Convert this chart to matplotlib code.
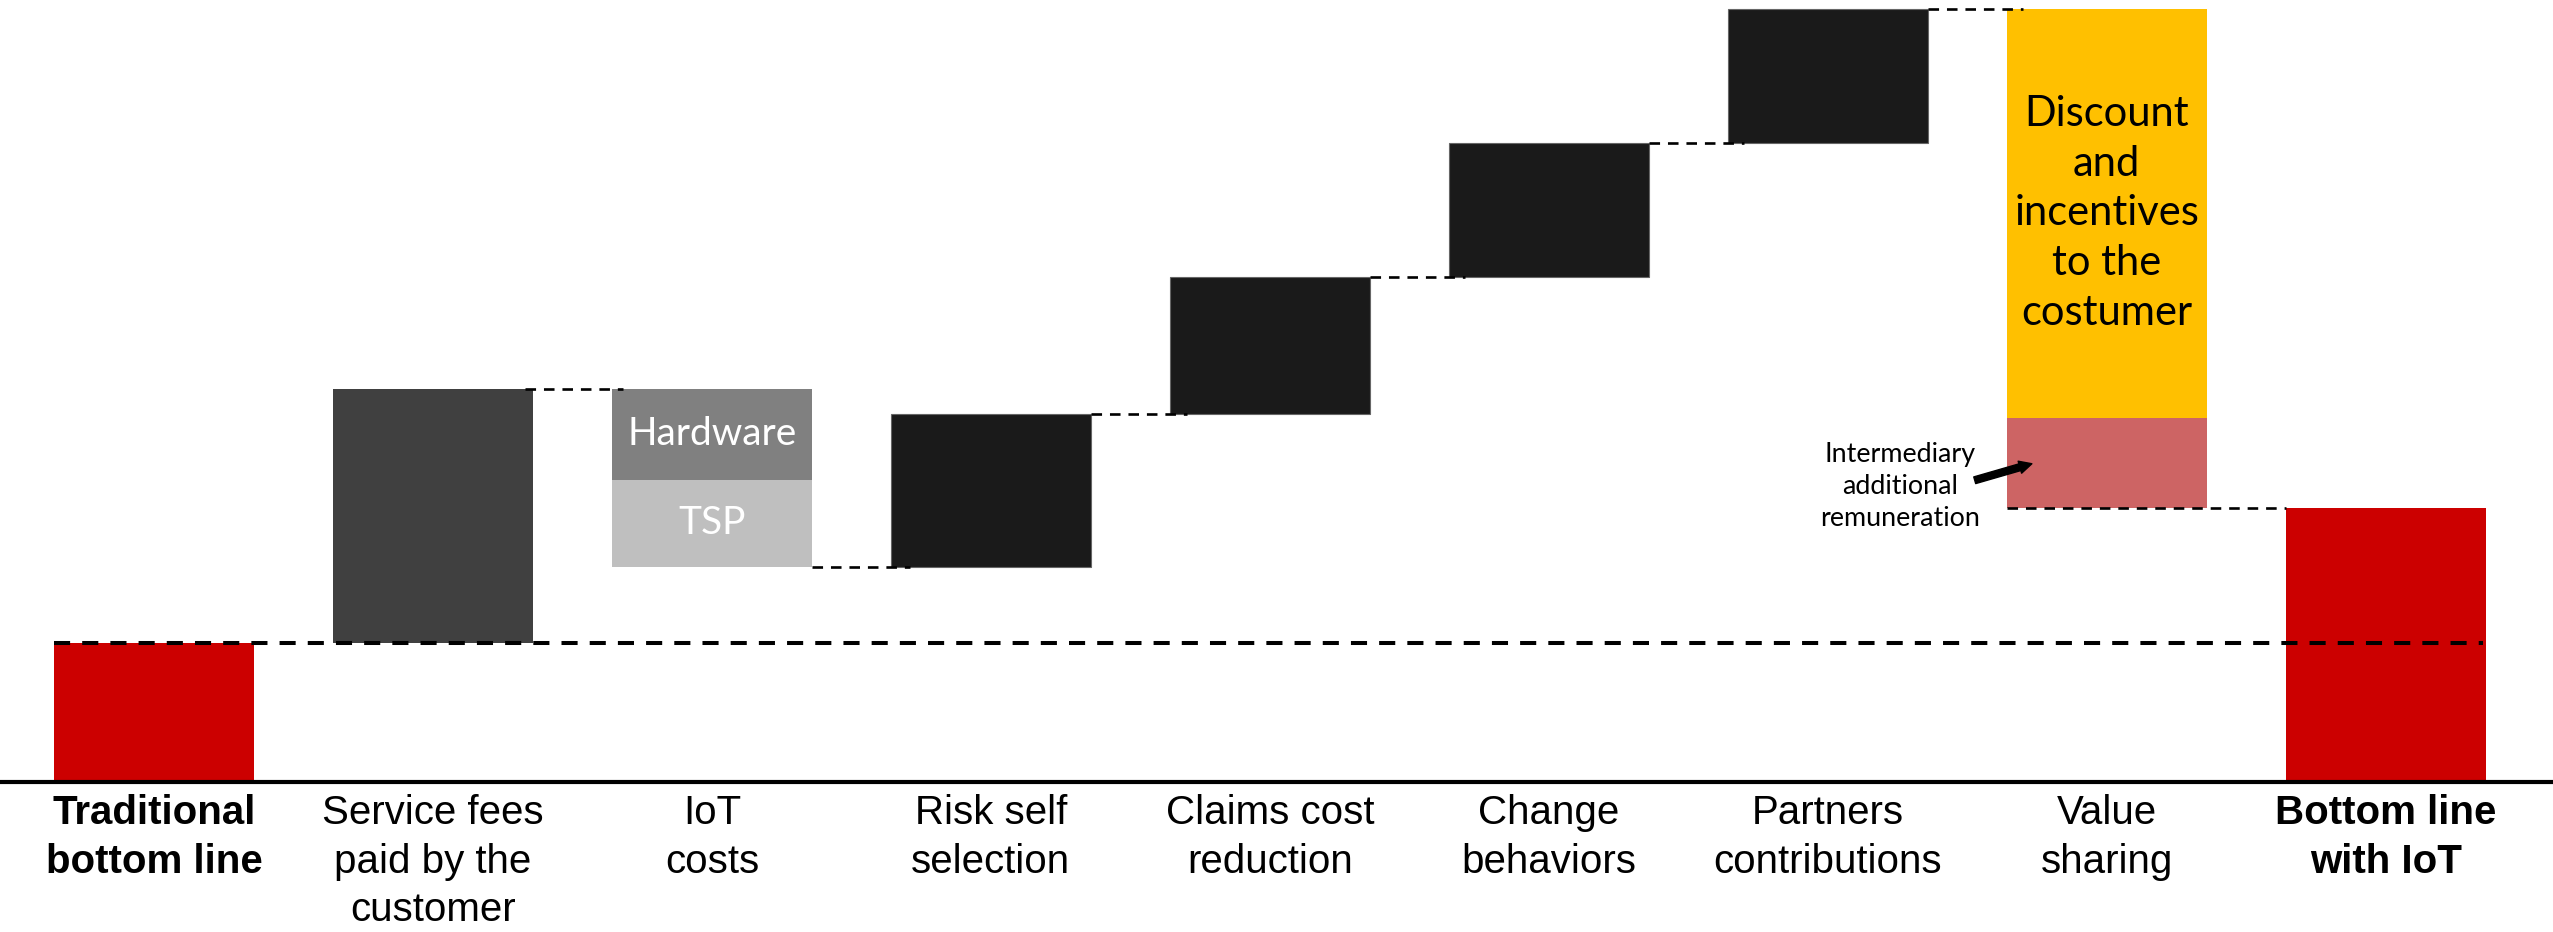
import numpy as np
import matplotlib
matplotlib.use('AGG')
import matplotlib.pyplot as plt

# categories and waterfall steps (arbitrary units, traditional bottom line = 100)
categories = ["Traditional\nbottom line", "Service fees\npaid by the\ncustomer", "IoT\ncosts",
              "Risk self\nselection", "Claims cost\nreduction", "Change\nbehaviors",
              "Partners\ncontributions", "Value\nsharing", "Bottom line\nwith IoT"]
bold_labels = [True, False, False, False, False, False, False, False, True]
start_value = 100
service_fees = 183
hardware = 66
tsp = 62
gains = [110, 98, 97, 96]          # risk, claims, change, partners
discount = 294
intermediary = 65

red = '#CC0000'
dark = '#1A1A1A'

fig = plt.figure(figsize=(25.53, 9.32), dpi=100)
ax = fig.add_axes([0, 0.161, 1, 0.839])
x = np.arange(len(categories))
w = 0.717

# traditional bottom line
ax.bar(x[0], start_value, w, color=red, zorder=2)
level = start_value
# service fees
ax.bar(x[1], service_fees, w, bottom=level, color='#404040', zorder=2)
level += service_fees
connectors = [(x[1] + w / 2 - 0.03, x[2] - w / 2 + 0.04, level)]
# IoT costs (hardware on top of TSP)
ax.bar(x[2], hardware, w, bottom=level - hardware, color='#808080', zorder=2)
ax.text(x[2], level - hardware / 2, "Hardware", color='white', ha='center', va='center',
        fontsize=28, family='Lato', zorder=4)
level -= hardware
ax.bar(x[2], tsp, w, bottom=level - tsp, color='#BFBFBF', zorder=2)
ax.text(x[2], level - tsp / 2, "TSP", color='white', ha='center', va='center',
        fontsize=28, family='Lato', zorder=4)
level -= tsp
connectors.append((x[2] + w / 2, x[3] - w / 2 + 0.07, level))
# gains
for i, g in enumerate(gains):
    xi = x[3 + i]
    ax.bar(xi, g, w, bottom=level, color=dark, edgecolor='#666666', linewidth=0.8, zorder=2)
    level += g
    connectors.append((xi + w / 2, x[4 + i] - w / 2 + 0.06, level))
# value sharing
ax.bar(x[7], discount, w, bottom=level - discount, color='#FFC000', zorder=2)
ax.text(x[7], level - discount / 2, "Discount\nand\nincentives\nto the\ncostumer", color='black',
        ha='center', va='center', fontsize=30, family='Lato', linespacing=1.38, zorder=4)
level -= discount
ax.bar(x[7], intermediary, w, bottom=level - intermediary, color='#CD6464', zorder=2)
pink_mid = level - intermediary / 2
level -= intermediary
connectors.append((x[7] - w / 2, x[8] - w / 2, level))
# bottom line with IoT
ax.bar(x[8], level, w, color=red, zorder=2)

for x0, x1, yv in connectors:
    ax.plot([x0, x1], [yv, yv], color='black', lw=1.9, dashes=(4, 3), zorder=3)

# long reference line at the traditional bottom line
ax.plot([x[0] - w / 2, x[8] + w / 2 - 0.01], [start_value, start_value], color='black',
        lw=2.9, dashes=(4, 3), zorder=3)

# annotation for intermediary
ax.annotate("", xy=(x[7] - w / 2 + 0.1, pink_mid), xytext=(-45, -13), textcoords='offset points',
            arrowprops=dict(arrowstyle='simple,head_length=0.9,head_width=0.9,tail_width=0.5',
                            color='black'), zorder=5)
ax.annotate("Intermediary\nadditional\nremuneration", xy=(x[7] - w / 2, pink_mid),
            xytext=(-77, -17), textcoords='offset points', ha='center', va='center',
            fontsize=19.4, family='Lato', linespacing=1.33)

ax.axhline(0, color='black', lw=3, clip_on=False, zorder=4)

ax.set_xlim(-0.552, 8.6)
ax.set_ylim(0, 562.6)
ax.set_xticks(x)
ax.set_xticklabels(categories, fontsize=29, family='Liberation Sans', linespacing=1.34)
for lab, b in zip(ax.get_xticklabels(), bold_labels):
    if b:
        lab.set_fontweight('bold')
ax.tick_params(axis='x', length=0, pad=9)
ax.set_yticks([])
for s in ax.spines.values():
    s.set_visible(False)

fig.savefig('out.png', dpi=100)
